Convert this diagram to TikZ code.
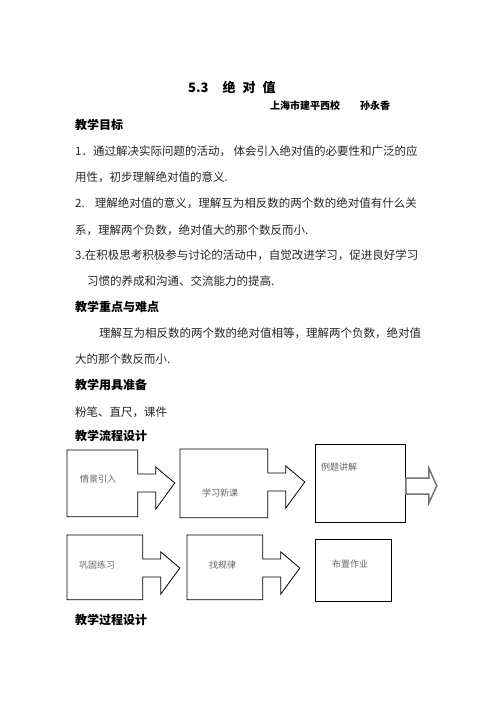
\documentclass[tikz,border=0pt]{standalone}
\usepackage{fontspec}
\setmainfont{Noto Sans CJK SC}
\tikzstyle{para}=[anchor=west, inner sep=0pt, font=\fontsize{11.5}{14}\selectfont, text=black!85]
\tikzstyle{head}=[anchor=west, inner sep=0pt, font=\fontsize{12}{14}\selectfont\bfseries]
\tikzstyle{box}=[anchor=north west, inner sep=0pt, line width=0.8pt]
\tikzstyle{tag}=[anchor=west, inner sep=0pt, font=\fontsize{9}{11}\selectfont, text=black!60]
\newcommand{\callout}[1]{%
  \draw[line width=0.8pt] (#1.north west) -- (#1.north east) -- ++(0,24) -- ++(18,0)
    -- ++(0,-7) -- ++(19,16) -- ++(-19,26) -- ++(0,-17) -- ++(-18,0)
    -- (#1.south east) -- (#1.south west) -- cycle;}

\begin{document}
\begin{tikzpicture}[x=1pt, y=-1pt]
\useasboundingbox (0,0) rectangle (496,702);
% title
\node[head, font=\fontsize{13}{15}\selectfont\bfseries] (title) at (188,87) {5.3\hspace{14pt}绝\hspace{7pt}对\hspace{7pt}值};
\node[head, font=\fontsize{10}{12}\selectfont\bfseries] (school) at (270,106) {上海市建平西校\hspace{20pt}孙永香};
% goals
\node[head] (goals) at (75,125) {教学目标};
\node[para] (g1a) at (75,151) {1．通过解决实际问题的活动， 体会引入绝对值的必要性和广泛的应};
\node[para] (g1b) at (75,177) {用性，初步理解绝对值的意义.};
\node[para] (g2a) at (75,203) {2.\hspace{10pt}理解绝对值的意义，理解互为相反数的两个数的绝对值有什么关};
\node[para] (g2b) at (75,230) {系，理解两个负数，绝对值大的那个数反而小.};
\node[para] (g3a) at (75,255) {3.在积极思考积极参与讨论的活动中，自觉改进学习，促进良好学习};
\node[para] (g3b) at (87,281) {习惯的养成和沟通、交流能力的提高.};
% key points
\node[head] (keys) at (75,307) {教学重点与难点};
\node[para] (k1a) at (99,333) {理解互为相反数的两个数的绝对值相等，理解两个负数，绝对值};
\node[para] (k1b) at (75,359) {大的那个数反而小.};
% tools
\node[head] (tools) at (75,385) {教学用具准备};
\node[para] (t1) at (75,412) {粉笔、直尺，课件};
% flow
\node[head] (flow) at (75,436) {教学流程设计};
\node[box, minimum width=70pt, minimum height=66pt] (intro) at (67,450) {};
\node[box, minimum width=87pt, minimum height=68pt] (lesson) at (180,449) {};
\node[box, draw, minimum width=90pt, minimum height=78pt] (sample) at (315,444) {};
\node[box, minimum width=75pt, minimum height=64pt] (drill) at (67,535) {};
\node[box, minimum width=75pt, minimum height=64pt] (rule) at (187,535) {};
\node[box, draw, minimum width=76pt, minimum height=62pt] (homework) at (315,539) {};
\callout{intro}
\callout{lesson}
\callout{drill}
\callout{rule}
\draw[draw=black!55, line width=1.5pt] (sample.north east) ++(0,34) -- ++(23,0) -- ++(0,-10)
  -- ++(8,18) -- ++(-8,17) -- ++(0,-9) -- ++(-23,0) -- cycle;
\node[tag] (intro text) at (80,479) {情景引入};
\node[tag] (lesson text) at (202,493) {学习新课};
\node[tag] (sample text) at (321,467) {例题讲解};
\node[tag] (drill text) at (79,565) {巩固练习};
\node[tag] (rule text) at (209,565) {找规律};
\node[tag] (homework text) at (332,564) {布置作业};
% process
\node[head] (process) at (75,620) {教学过程设计};
\end{tikzpicture}
\end{document}
